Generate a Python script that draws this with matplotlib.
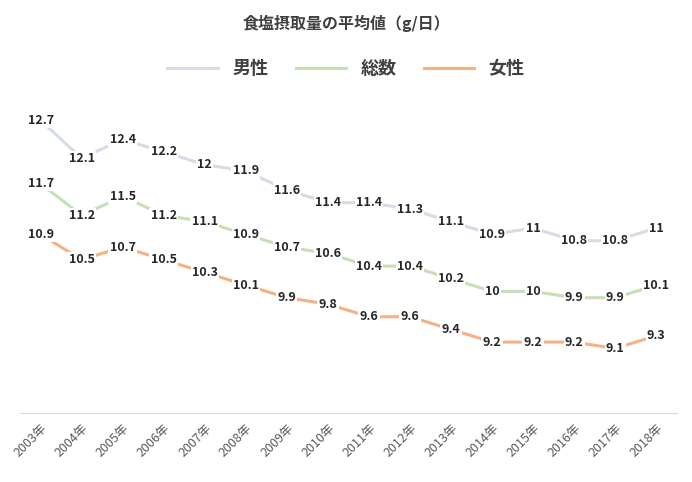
import matplotlib
matplotlib.use("Agg")
import matplotlib.pyplot as plt

plt.rcParams['font.family'] = ['Noto Sans CJK JP', 'DejaVu Sans']

male = [12.7, 12.1, 12.4, 12.2, 12, 11.9, 11.6, 11.4, 11.4, 11.3, 11.1, 10.9, 11, 10.8, 10.8, 11]
total = [11.7, 11.2, 11.5, 11.2, 11.1, 10.9, 10.7, 10.6, 10.4, 10.4, 10.2, 10, 10, 9.9, 9.9, 10.1]
female = [10.9, 10.5, 10.7, 10.5, 10.3, 10.1, 9.9, 9.8, 9.6, 9.6, 9.4, 9.2, 9.2, 9.2, 9.1, 9.3]
years = [f"{y}年" for y in range(2003, 2003 + len(male))]

fig = plt.figure(figsize=(6.92, 4.82), dpi=100)
ax = fig.add_axes([0.029, 0.143, 0.949, 0.66])
x = list(range(len(male)))
series = [("男性", male, "#D6DCE5"), ("総数", total, "#C5E0B4"), ("女性", female, "#F4B183")]
for name, vals, c in series:
    ax.plot(x, vals, color=c, lw=2.2, label=name)
    for xi, v in zip(x, vals):
        ax.text(xi, v, f"{v:g}", ha="center", va="center", fontsize=9, fontweight="bold",
                color="#262626", bbox=dict(boxstyle="square,pad=0.1", fc="white", ec="none"))

ax.set_xlim(-0.5, len(male) - 0.5)
ax.set_ylim(8.08, 13.1)
ax.set_yticks([])
ax.set_xticks(x)
ax.set_xticklabels(years, rotation=45, ha="right", rotation_mode="anchor", fontsize=9, color="#595959")
ax.tick_params(axis="x", length=0, pad=6)
for s in ["top", "right", "left"]:
    ax.spines[s].set_visible(False)
ax.spines["bottom"].set_color("#D9D9D9")

fig.text(0.5, 0.952, "食塩摂取量の平均値（g/日）", ha="center", va="center", fontsize=11.5,
         fontweight="bold", color="#404040")
fig.legend(loc="center", bbox_to_anchor=(0.5, 0.858), ncol=3, frameon=False,
           prop={"size": 13, "weight": "bold"}, labelcolor="#404040", handlelength=2.8,
           columnspacing=1.5)
fig.savefig("out.png", dpi=100)
